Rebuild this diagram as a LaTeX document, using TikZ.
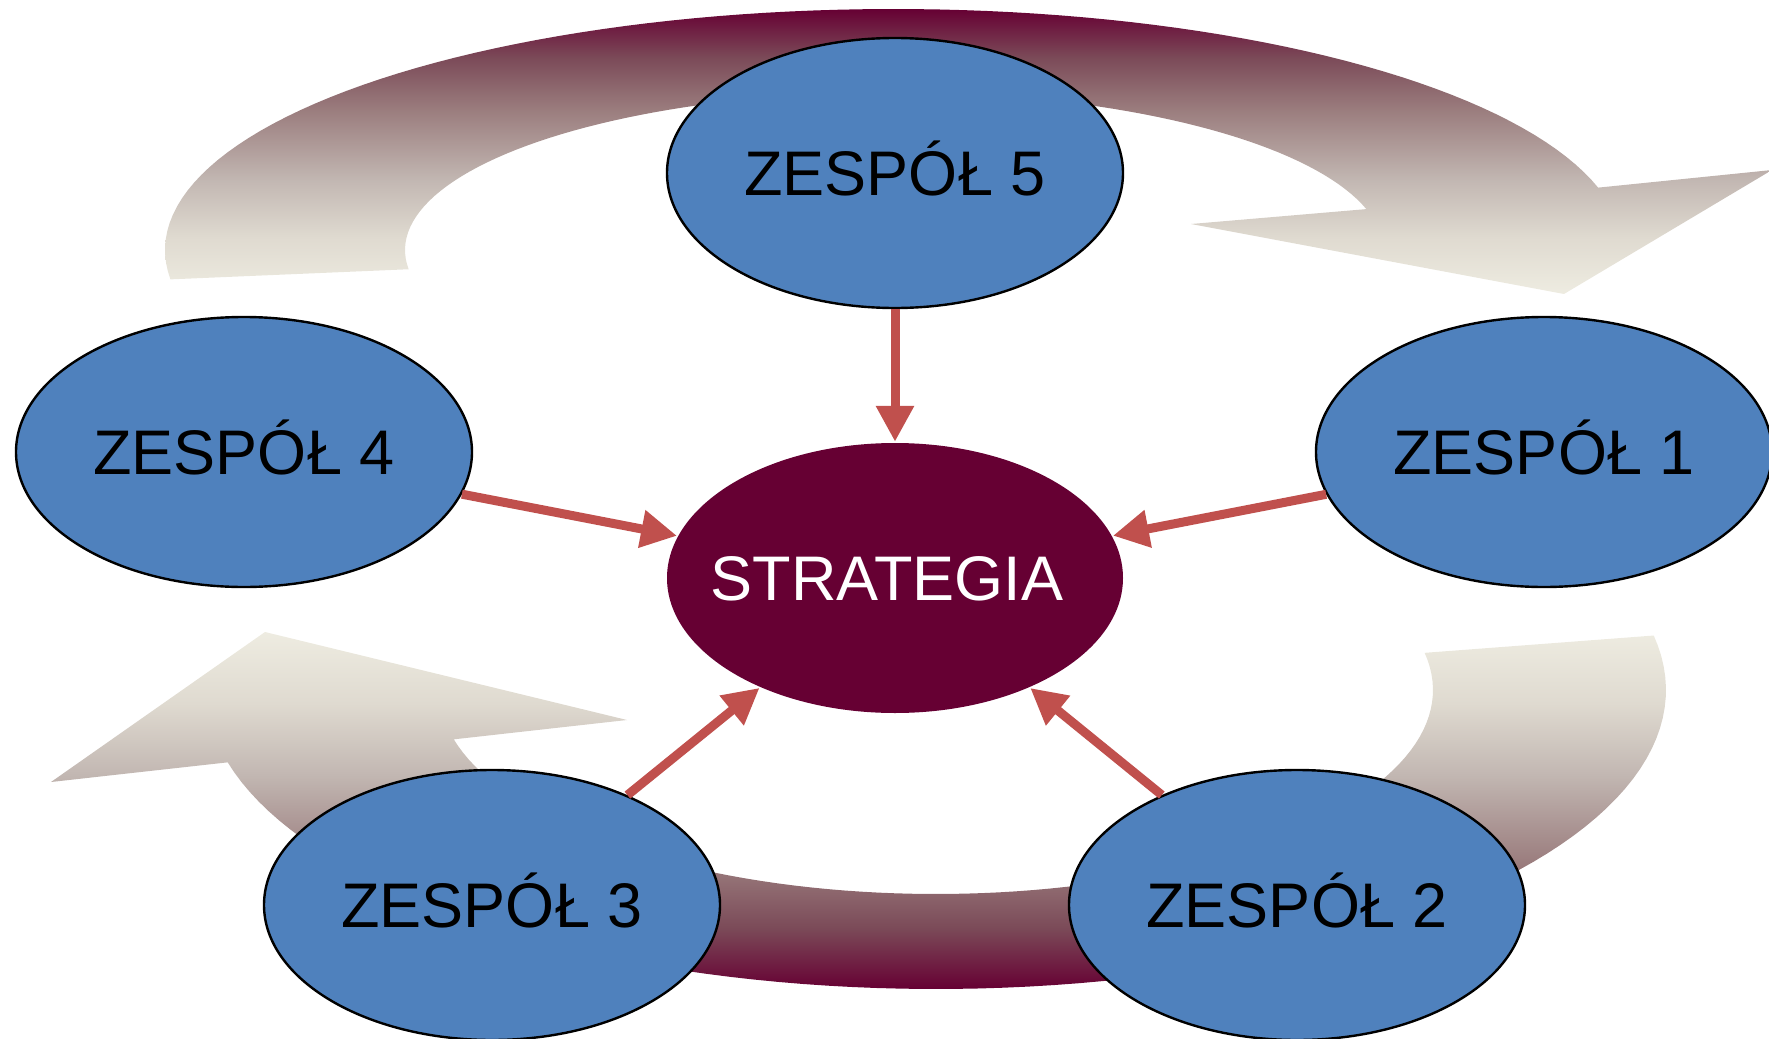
\documentclass[tikz,border=0pt]{standalone}
\usepackage{fontspec}
\setmainfont{Liberation Sans}
\usetikzlibrary{arrows.meta,shapes.geometric}

\definecolor{teamblue}{HTML}{4F81BD}
\definecolor{feedred}{HTML}{C0504D}
\definecolor{coremaroon}{HTML}{660033}
\definecolor{gradA}{HTML}{EEECE1}
\definecolor{gradB}{HTML}{DFDAD0}
\definecolor{gradC}{HTML}{C2B7B2}
\definecolor{gradD}{HTML}{9A7C7D}
\definecolor{gradE}{HTML}{7B4A58}
\definecolor{gradF}{HTML}{660033}

% light beige to maroon, dark end on top / on bottom
\pgfdeclareverticalshading{darktop}{100bp}{color(0bp)=(gradA); color(25bp)=(gradA); color(35bp)=(gradB); color(45bp)=(gradC); color(57.5bp)=(gradD); color(66.5bp)=(gradE); color(75bp)=(gradF); color(100bp)=(gradF)}
\pgfdeclareverticalshading{darkbottom}{100bp}{color(0bp)=(gradF); color(25bp)=(gradF); color(33.5bp)=(gradE); color(42.5bp)=(gradD); color(55bp)=(gradC); color(65bp)=(gradB); color(75bp)=(gradA); color(100bp)=(gradA)}

\pgfdeclarelayer{back}
\pgfsetlayers{back,main}

\newcommand\teamfont{\fontsize{31.5pt}{36pt}\selectfont}

\tikzset{
  team/.style={ellipse, draw=black, line width=1.2pt, fill=teamblue,
    minimum width=228pt, minimum height=135pt, inner sep=0pt,
    font=\teamfont, text=black, text height=22.6pt, text depth=0pt},
  core/.style={team, draw=none, fill=coremaroon, text=white, inner xsep=-16pt},
  feed/.style={draw=feedred, fill=feedred, line width=4.5pt,
    -{Triangle[length=18pt,width=18pt]}},
  cycle arrow/.style={shade, draw=none}
}

\begin{document}
\begin{tikzpicture}[x=0.5pt, y=-0.5pt]
\useasboundingbox (0,0) rectangle (1769,1039);

% teams around the strategy
\node[core] (s)  at (895,578) {STRATEGIA\hspace*{8pt}};
\node[team] (z5) at (895,173) {ZESPÓŁ 5};
\node[team] (z4) at (244,452) {ZESPÓŁ 4};
\node[team] (z1) at (1544,452) {ZESPÓŁ 1};
\node[team] (z3) at (492,905) {ZESPÓŁ 3};
\node[team] (z2) at (1297,905) {ZESPÓŁ 2};

% each team feeds the strategy
\draw[feed] (z5) -- (s);
\draw[feed] (z4) -- (s);
\draw[feed] (z1) -- (s);
\draw[feed] (z3) -- (s);
\draw[feed] (z2) -- (s);

% two broad curved arrows forming the cycle, behind the teams
\begin{pgfonlayer}{back}
  \path[cycle arrow, shading=darktop]
    plot[domain=173:345, samples=90] ({894+729*cos(\x)}, {250+241*sin(\x)})
    -- (1772,170) -- (1564,294) -- (1191,224)
    -- plot[domain=345:173, samples=90] ({894+489*cos(\x)}, {250+158*sin(\x)})
    -- cycle;
  \path[cycle arrow, shading=darkbottom]
    plot[domain=-10.5:166, samples=90] ({936+730*cos(\x)}, {690+299*sin(\x)})
    -- (51,782) -- (265,632) -- (627,720)
    -- plot[domain=166:-10.5, samples=90] ({936+497*cos(\x)}, {690+204*sin(\x)})
    -- cycle;
\end{pgfonlayer}
\end{tikzpicture}
\end{document}
